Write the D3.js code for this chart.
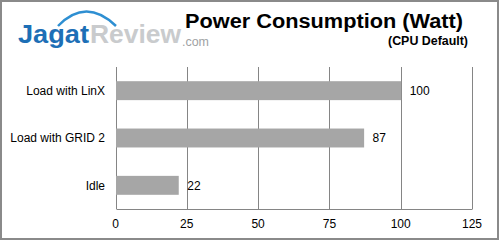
<!DOCTYPE html>
<html><head><meta charset="utf-8">
<script src="https://cdn.jsdelivr.net/npm/d3@7"></script>
<style>body{margin:0;background:#fff}svg{display:block}</style>
</head><body>
<script>
const categories = ["Load with LinX", "Load with GRID 2", "Idle"];
const values = [100, 87, 22];
const tickValues = [0, 25, 50, 75, 100, 125];
const title = "Power Consumption (Watt)";
const subtitle = "(CPU Default)";

const W = 500, H = 241;
const svg = d3.select("body").append("svg").attr("width", W).attr("height", H);
svg.append("rect").attr("x", 1).attr("y", 1).attr("width", 497).attr("height", 238)
  .attr("fill", "#fff").attr("stroke", "#8a8a8a").attr("stroke-width", 2);

const font = "Liberation Sans, Arial, sans-serif";
// logo
const logo = svg.append("g");
logo.append("path").attr("d", "M58,26 Q86,-3 116,26").attr("fill", "none")
  .attr("stroke", "#2e8fd2").attr("stroke-width", 2.5);
logo.append("text").attr("x", 18).attr("y", 43).attr("font-family", font).attr("font-weight", "bold")
  .attr("font-size", 26).attr("fill", "#1d6fb6").attr("textLength", 71).attr("lengthAdjust", "spacingAndGlyphs").text("Jagat");
logo.append("text").attr("x", 90).attr("y", 43).attr("font-family", font).attr("font-weight", "bold")
  .attr("font-size", 26).attr("fill", "#c9cbcd").attr("textLength", 91).attr("lengthAdjust", "spacingAndGlyphs").text("Review");
logo.append("text").attr("x", 182).attr("y", 46).attr("font-family", font)
  .attr("font-size", 12).attr("fill", "#a0a2a4").attr("textLength", 27).attr("lengthAdjust", "spacingAndGlyphs").text(".com");

svg.append("text").attr("x", 185).attr("y", 28)
  .attr("font-family", font).attr("font-weight", "bold")
  .attr("font-size", 20).attr("fill", "#000").attr("textLength", 278).attr("lengthAdjust", "spacingAndGlyphs").text(title);
svg.append("text").attr("x", 388).attr("y", 45)
  .attr("font-family", font).attr("font-weight", "bold")
  .attr("font-size", 12).attr("fill", "#000").attr("textLength", 80).attr("lengthAdjust", "spacingAndGlyphs").text(subtitle);

const x = d3.scaleLinear().domain([0, 125]).range([115.5, 472]);
const y = d3.scaleBand().domain(categories).range([67, 209]).paddingInner(0.6).paddingOuter(0.3);

const g = svg.append("g");
g.selectAll("line.grid").data(tickValues).join("line").attr("class", "grid")
  .attr("x1", d => Math.round(x(d)) + 0.5).attr("x2", d => Math.round(x(d)) + 0.5)
  .attr("y1", 67).attr("y2", 209).attr("stroke", "#858585").attr("stroke-width", 1);
g.selectAll("rect.bar").data(values).join("rect").attr("class", "bar")
  .attr("x", x(0) + 0.5).attr("y", (d, i) => y(categories[i]))
  .attr("width", d => x(d) - x(0)).attr("height", y.bandwidth()).attr("fill", "#a6a6a6");
g.append("line").attr("x1", Math.round(x(0)) + 0.5).attr("x2", Math.round(x(125)) + 0.5)
  .attr("y1", 209.5).attr("y2", 209.5).attr("stroke", "#858585");

g.selectAll("text.val").data(values).join("text").attr("class", "val")
  .attr("x", d => x(d) + 9).attr("y", (d, i) => y(categories[i]) + y.bandwidth() / 2)
  .attr("dy", "0.35em").attr("font-family", font).attr("font-size", 12).attr("fill", "#000")
  .text(d => d);
g.selectAll("text.cat").data(categories).join("text").attr("class", "cat")
  .attr("x", 105).attr("y", d => y(d) + y.bandwidth() / 2).attr("dy", "0.35em")
  .attr("text-anchor", "end").attr("font-family", font).attr("font-size", 12).attr("fill", "#000")
  .text(d => d);
g.selectAll("text.tick").data(tickValues).join("text").attr("class", "tick")
  .attr("x", d => x(d)).attr("y", 228).attr("text-anchor", "middle")
  .attr("font-family", font).attr("font-size", 12).attr("fill", "#000").text(d => d);
</script>
</body></html>
